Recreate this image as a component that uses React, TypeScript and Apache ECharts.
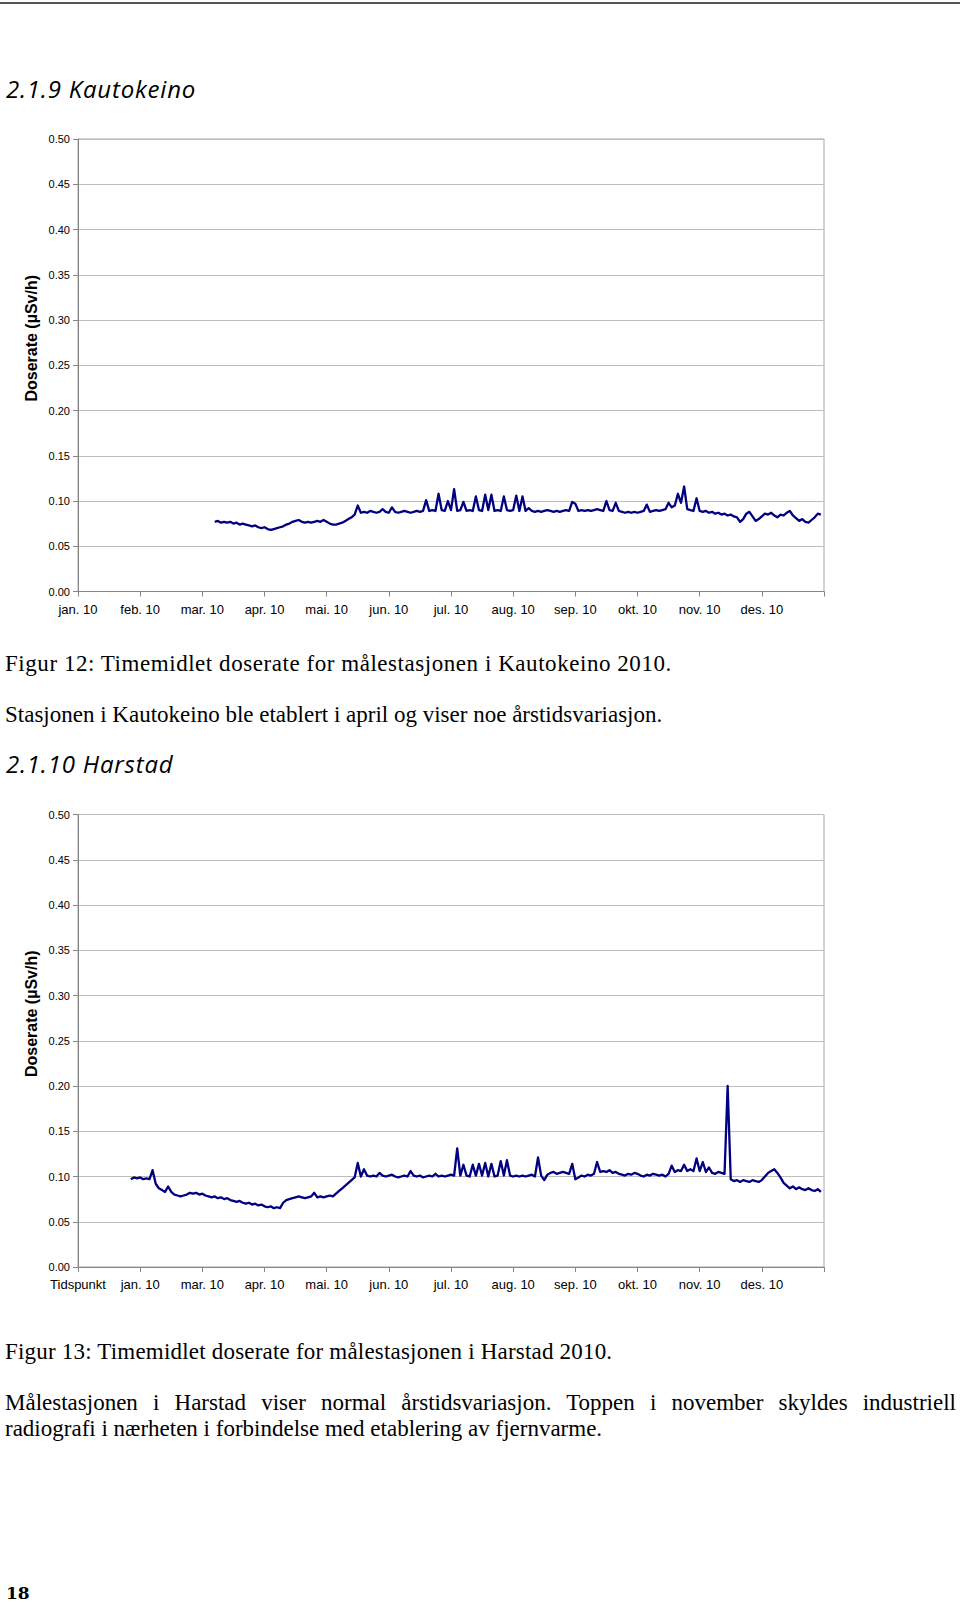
import React, { useEffect, useRef } from "react";
import * as echarts from "echarts";

// ---------- data ----------
const kautokeinoLabels = ["jan. 10", "feb. 10", "mar. 10", "apr. 10", "mai. 10", "jun. 10", "jul. 10", "aug. 10", "sep. 10", "okt. 10", "nov. 10", "des. 10", ""];
const harstadLabels = ["Tidspunkt", "jan. 10", "mar. 10", "apr. 10", "mai. 10", "jun. 10", "jul. 10", "aug. 10", "sep. 10", "okt. 10", "nov. 10", "des. 10", ""];

const SAMPLE_STEP = 0.05; // months between read samples
const kautokeinoStart = 2.2; // month position of first sample
const kautokeinoDose = [
  0.077, 0.078, 0.076, 0.077, 0.076, 0.077, 0.075, 0.076, 0.074, 0.075,
  0.074, 0.073, 0.072, 0.073, 0.071, 0.070, 0.071,
  0.069, 0.068, 0.069, 0.070,
  0.071, 0.072, 0.074, 0.075, 0.077, 0.078,
  0.079, 0.077, 0.076, 0.077, 0.076, 0.077, 0.078, 0.077, 0.079,
  0.077, 0.075, 0.074, 0.074, 0.075, 0.076,
  0.078, 0.080, 0.082, 0.085, 0.095, 0.087,
  0.088, 0.087, 0.089, 0.088, 0.087, 0.088, 0.091, 0.088, 0.087, 0.093, 0.088, 0.087, 0.088, 0.089, 0.088, 0.087, 0.088, 0.089, 0.088,
  0.089, 0.101, 0.089, 0.090, 0.089, 0.108, 0.090, 0.089, 0.100, 0.090, 0.113, 0.089, 0.090, 0.099, 0.089, 0.090, 0.089, 0.105, 0.090, 0.089,
  0.107, 0.090, 0.107, 0.089, 0.090, 0.089, 0.105, 0.090, 0.089, 0.090, 0.106, 0.089, 0.105, 0.089,
  0.092, 0.089, 0.088, 0.089, 0.088, 0.089, 0.090, 0.089, 0.088, 0.089, 0.088, 0.089, 0.090, 0.089, 0.099, 0.097, 0.089, 0.090, 0.089, 0.090,
  0.089, 0.090, 0.091, 0.090, 0.089, 0.100, 0.090, 0.089, 0.098, 0.089, 0.088, 0.087, 0.088, 0.087, 0.088, 0.087, 0.088, 0.089, 0.096, 0.088,
  0.089, 0.090, 0.089, 0.090, 0.091,
  0.098, 0.093, 0.095, 0.108, 0.098, 0.116, 0.091,
  0.090, 0.089, 0.103, 0.089, 0.088, 0.089, 0.087, 0.088, 0.086, 0.087, 0.085, 0.086, 0.084, 0.085, 0.083, 0.082,
  0.077, 0.080, 0.086, 0.088, 0.083, 0.078, 0.080, 0.083, 0.086, 0.085, 0.087, 0.084, 0.082, 0.085, 0.084, 0.087, 0.089, 0.084, 0.081, 0.078,
  0.080, 0.077, 0.076, 0.079, 0.082, 0.086, 0.085,
];

const harstadStart = 0.85;
const harstadDose = [
  0.097, 0.099, 0.098, 0.099, 0.097, 0.098, 0.097,
  0.107, 0.092,
  0.087, 0.085, 0.083, 0.089, 0.083,
  0.080, 0.079, 0.078, 0.079, 0.080,
  0.082, 0.081, 0.082, 0.080, 0.081,
  0.079, 0.078, 0.077, 0.078, 0.076, 0.077, 0.075, 0.076, 0.074,
  0.073, 0.072, 0.073, 0.071, 0.070, 0.071, 0.069, 0.070, 0.068, 0.069, 0.067,
  0.066, 0.067, 0.065, 0.066, 0.065,
  0.071, 0.074, 0.075,
  0.076, 0.077, 0.078, 0.077, 0.076, 0.077, 0.078, 0.082, 0.077, 0.078, 0.077, 0.078, 0.079, 0.078,
  0.081, 0.084, 0.087, 0.090, 0.093, 0.096,
  0.099, 0.115, 0.100, 0.108, 0.101, 0.100, 0.101, 0.100, 0.104, 0.101, 0.100, 0.101, 0.102, 0.100, 0.099, 0.100, 0.101, 0.100, 0.106, 0.101,
  0.100, 0.101, 0.099, 0.100, 0.101, 0.100, 0.103, 0.100, 0.101, 0.100, 0.101, 0.102, 0.101, 0.131, 0.101, 0.113, 0.101, 0.100, 0.113, 0.101,
  0.114, 0.101, 0.115, 0.100, 0.114, 0.100, 0.101, 0.117, 0.101, 0.118, 0.101, 0.100, 0.101, 0.100, 0.101, 0.100, 0.101, 0.102, 0.100, 0.121, 0.101,
  0.096,
  0.102, 0.104, 0.105, 0.103, 0.104, 0.105, 0.104, 0.103,
  0.114, 0.097,
  0.099, 0.101, 0.100, 0.102, 0.101, 0.103,
  0.116,
  0.105, 0.106, 0.105, 0.107, 0.104, 0.105,
  0.103, 0.102, 0.101, 0.103, 0.102, 0.104, 0.103, 0.101, 0.100, 0.102, 0.101, 0.103, 0.102,
  0.101, 0.102, 0.100, 0.103,
  0.112,
  0.105, 0.107, 0.106, 0.113, 0.106, 0.108, 0.106, 0.120, 0.106, 0.116, 0.105, 0.110,
  0.104, 0.103, 0.105, 0.104, 0.103,
  0.200,
  0.097, 0.095, 0.096, 0.094, 0.096, 0.095, 0.094, 0.096, 0.095, 0.094, 0.096,
  0.100, 0.104, 0.106, 0.108, 0.104,
  0.099, 0.093, 0.090,
  0.087, 0.089, 0.086, 0.088, 0.086, 0.085, 0.087, 0.085, 0.084, 0.086, 0.083,
];

const yMin = 0;
const yMax = 0.5;
const yStep = 0.05;
const axisTitle = "Doserate (µSv/h)";

// ---------- texts ----------
const heading1 = "2.1.9 Kautokeino";
const caption1 = "Figur 12: Timemidlet doserate for målestasjonen i Kautokeino 2010.";
const paragraph1 = "Stasjonen i Kautokeino ble etablert i april og viser noe årstidsvariasjon.";
const heading2 = "2.1.10 Harstad";
const caption2 = "Figur 13: Timemidlet doserate for målestasjonen i Harstad 2010.";
const paragraph2Line1 = "Målestasjonen i Harstad viser normal årstidsvariasjon. Toppen i november skyldes industriell";
const paragraph2Line2 = "radiografi i nærheten i forbindelse med etablering av fjernvarme.";
const pageNumber = "18";

// ---------- layout ----------
const SANS = '"Liberation Sans", Arial, sans-serif';
const SERIF = '"Liberation Serif", "Times New Roman", serif';
const HEAD = '"Open Sans", sans-serif';
const NUM = '"DejaVu Serif", serif';
const GRID_LEFT = 78;
const GRID_W = 746;
const GRID_H = 452.5;
const GRID_TOPS = [139, 814.5];

function toPoints(start: number, values: number[]) {
  return values.map((v, i) => [+(start + i * SAMPLE_STEP).toFixed(3), v]);
}

function xAxisFor(gridIndex: number, labels: string[]) {
  return {
    gridIndex,
    type: "value",
    min: 0,
    max: 12,
    interval: 1,
    axisLine: { show: true, onZero: false, lineStyle: { color: "#868686", width: 1 } },
    axisTick: { show: true, length: 5, lineStyle: { color: "#868686" } },
    splitLine: { show: false },
    axisLabel: {
      margin: 11,
      fontFamily: SANS,
      fontSize: 13,
      color: "#000",
      showMinLabel: true,
      showMaxLabel: true,
      formatter: (v: number) => labels[Math.round(v)] ?? "",
    },
  };
}

function yAxisFor(gridIndex: number) {
  return {
    gridIndex,
    type: "value",
    min: yMin,
    max: yMax,
    interval: yStep,
    axisLine: { show: true, lineStyle: { color: "#868686", width: 1 } },
    axisTick: { show: true, length: 5, lineStyle: { color: "#868686" } },
    splitLine: { show: true, lineStyle: { color: "#bdbdbd", width: 1 } },
    axisLabel: {
      margin: 8,
      fontFamily: SANS,
      fontSize: 11,
      color: "#000",
      formatter: (v: number) => v.toFixed(2),
    },
  };
}

function seriesFor(index: number, start: number, values: number[]) {
  return {
    type: "line",
    xAxisIndex: index,
    yAxisIndex: index,
    data: toPoints(start, values),
    showSymbol: false,
    symbol: "none",
    silent: true,
    lineStyle: { color: "#000080", width: 2.3, join: "round" },
    z: 3,
  };
}

function TextLine(props: {
  text: string;
  left: number;
  baseline: number;
  size: number;
  family: string;
  ratio: number;
  italic?: boolean;
  bold?: boolean;
  width?: number;
  justify?: boolean;
  spacing?: number;
}) {
  const top = props.baseline - props.size * props.ratio;
  return (
    <div
      style={{
        position: "absolute",
        left: props.left,
        top,
        width: props.width,
        fontFamily: props.family,
        fontSize: props.size,
        lineHeight: `${props.size}px`,
        fontStyle: props.italic ? "italic" : "normal",
        fontWeight: props.bold ? 700 : 400,
        letterSpacing: props.spacing ? `${props.spacing}px` : undefined,
        color: "#000",
        whiteSpace: props.justify ? "normal" : "nowrap",
        textAlign: props.justify ? "justify" : "left",
        textAlignLast: props.justify ? "justify" : undefined,
        pointerEvents: "none",
      } as React.CSSProperties}
    >
      {props.text}
    </div>
  );
}

export default function App() {
  const ref = useRef<HTMLDivElement>(null);

  useEffect(() => {
    if (!ref.current) return;
    const chart = echarts.init(ref.current, null, { renderer: "svg" });
    chart.setOption({
      animation: false,
      backgroundColor: "#ffffff",
      grid: GRID_TOPS.map((top) => ({
        left: GRID_LEFT,
        top,
        width: GRID_W,
        height: GRID_H,
        show: true,
        borderColor: "#a6a6a6",
        borderWidth: 1,
        backgroundColor: "transparent",
        containLabel: false,
      })),
      xAxis: [xAxisFor(0, kautokeinoLabels), xAxisFor(1, harstadLabels)],
      yAxis: [yAxisFor(0), yAxisFor(1)],
      series: [seriesFor(0, kautokeinoStart, kautokeinoDose), seriesFor(1, harstadStart, harstadDose)],
      graphic: GRID_TOPS.map((top) => ({
        type: "text",
        x: 31,
        y: top + GRID_H / 2 - 27,
        rotation: Math.PI / 2,
        silent: true,
        style: {
          text: axisTitle,
          font: `bold 16px ${SANS}`,
          fill: "#000",
          textAlign: "center",
          textVerticalAlign: "middle",
        },
      })),
    });
    return () => chart.dispose();
  }, []);

  return (
    <div style={{ position: "absolute", left: 0, top: 0, width: 960, height: 1605, background: "#fff", overflow: "hidden" }}>
      <div ref={ref} style={{ position: "absolute", left: 0, top: 0, width: 960, height: 1605 }} />
      <div style={{ position: "absolute", left: 0, top: 2, width: 960, height: 2, background: "#555" }} />
      <TextLine text={heading1} left={6} baseline={98} size={24} family={HEAD} ratio={0.888} italic spacing={0.8} />
      <TextLine text={caption1} left={5} baseline={671} size={23} family={SERIF} ratio={0.8375} spacing={0.55} />
      <TextLine text={paragraph1} left={5} baseline={722} size={23} family={SERIF} ratio={0.8375} />
      <TextLine text={heading2} left={6} baseline={773.5} size={24} family={HEAD} ratio={0.888} italic spacing={0.8} />
      <TextLine text={caption2} left={5} baseline={1359} size={23} family={SERIF} ratio={0.8375} spacing={0.2} />
      <TextLine text={paragraph2Line1} left={5} width={951} justify baseline={1410} size={23} family={SERIF} ratio={0.8375} />
      <TextLine text={paragraph2Line2} left={5} baseline={1436.6} size={23} family={SERIF} ratio={0.8375} />
      <TextLine text={pageNumber} left={6} baseline={1599.5} size={17} family={NUM} ratio={0.846} bold />
    </div>
  );
}
